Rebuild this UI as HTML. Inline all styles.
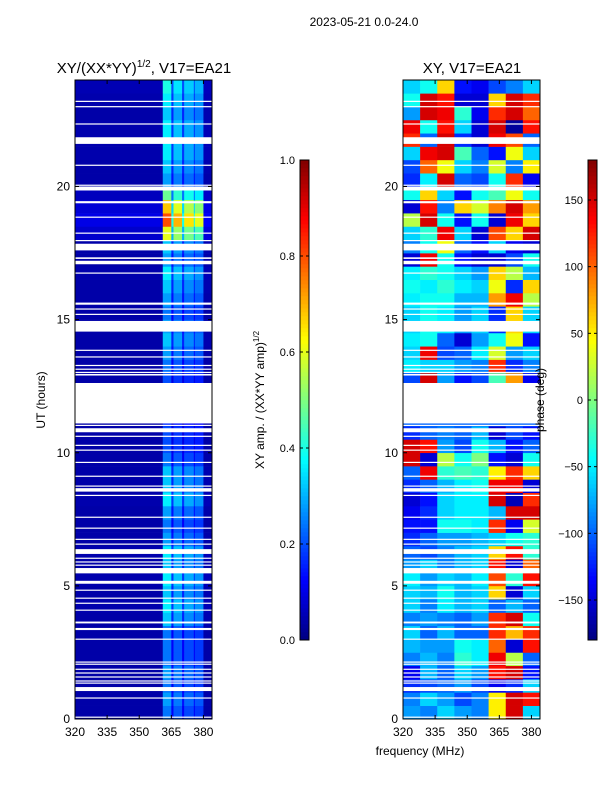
<!DOCTYPE html>
<html><head><meta charset="utf-8">
<style>
html,body{margin:0;padding:0;background:#fff;}
svg{display:block;font-family:"Liberation Sans","DejaVu Sans",sans-serif;}
</style></head>
<body>
<svg id="fig" width="600" height="800" viewBox="0 0 600 800" xmlns="http://www.w3.org/2000/svg">
<text x="364" y="26" font-size="12" text-anchor="middle">2023-05-21 0.0-24.0</text>
<text x="144" y="73" font-size="15" text-anchor="middle">XY/(XX*YY)<tspan font-size="10" dy="-6">1/2</tspan><tspan dy="6">, V17=EA21</tspan></text>
<text x="472" y="73" font-size="15" text-anchor="middle">XY, V17=EA21</text>
<g id="left"></g>
<g id="right"></g>
<g id="cb1"></g>
<g id="cb2"></g>
<g id="axes"></g>
<text transform="translate(45,400) rotate(-90)" font-size="12" text-anchor="middle">UT (hours)</text>
<text x="420" y="755" font-size="12" text-anchor="middle">frequency (MHz)</text>
<text transform="translate(264,400) rotate(-90)" font-size="12" text-anchor="middle">XY amp. / (XX*YY amp)<tspan font-size="8" dy="-5">1/2</tspan></text>
<text transform="translate(544,400) rotate(-90)" font-size="12" text-anchor="middle">phase (deg)</text>
</svg>
<script>
// ---- data ----
const ampBandEdges = [320, 361, 365, 366, 370, 371, 375.5, 376, 380, 384];
const ampBandWeight = [0.1, 0.8, 0.4, 0.7, 0.4, 0.65, 0.4, 0.6, 0.12];
const rowStartHours = [0,0.5,1,1.5,2,2.5,3,3.5,4,4.5,5,5.5,6,6.5,7,7.5,8,8.5,9,9.5,10,10.5,11,11.5,12,12.5,13,13.5,14,14.5,15,15.5,16,16.5,17,17.5,18,18.5,19,19.5,20,20.5,21,21.5,22,22.5,23,23.5];
const ampRowPeak = [0.3,0.35,0.3,0.35,0.3,0.3,0.3,0.4,0.45,0.4,0.45,0.4,0.45,0.35,0.3,0.35,0.45,0.4,0.4,0.3,0.25,0.25,0.2,0.2,0.2,0.25,0.3,0.35,0.4,0.35,0.3,0.35,0.4,0.45,0.35,0.4,0.75,1.0,0.85,0.6,0.35,0.4,0.45,0.45,0.45,0.4,0.45,0.5];
const phaseBandEdges = [320,328,336,344,352,360,368,376,384];
const phaseRows = [
[-80,-90,-60,-80,-90,50,150,-60],
[-90,-60,-80,-110,-90,50,150,130],
[-120,-110,-100,-80,-110,-140,-120,-60],
[-140,-70,-100,-60,-80,130,150,-130],
[-90,-70,-90,-30,-50,140,20,-100],
[-70,-80,-80,-40,-50,100,-150,130],
[-60,-100,-70,-100,-100,120,70,120],
[-90,-80,-90,-100,-80,120,150,-40],
[-60,-90,-50,-70,-60,-100,-70,-100],
[-60,-70,-40,-70,-60,60,-150,-60],
[-50,-80,-60,-70,-50,110,-30,130],
[-80,-60,-90,-70,-60,130,-150,100],
[-100,-110,-90,-70,-60,60,130,-30],
[-120,-100,-80,-80,-70,-60,-40,-30],
[-130,-130,-40,-40,-50,120,-140,30],
[-140,-120,-60,-50,-50,-70,150,150],
[-150,-130,-60,-50,-50,150,-160,120],
[-120,-100,-70,-50,-40,140,140,-150],
[-100,140,-30,-20,-30,50,120,60],
[150,-150,20,-40,0,-130,-150,-40],
[150,130,-80,-110,-40,-70,-130,-100],
[-120,-100,-90,-100,-70,-150,-110,-130],
[-100,-100,-100,-100,-100,-100,-100,-100],
[-100,-100,-100,-100,-100,-100,-100,-100],
[-100,-100,-100,-100,-100,-100,-100,-100],
[-110,150,-80,-130,-110,-20,80,-140],
[-50,-60,-60,-80,-90,120,-120,-90],
[-60,140,-110,-100,-50,30,-80,-60],
[-50,-40,-100,-150,-80,-40,40,-130],
[-60,-40,-50,-80,-60,-120,60,-60],
[-60,-40,-50,-80,-60,-120,60,-60],
[-50,-40,-40,-70,-70,80,140,20],
[-40,-50,-30,-50,-60,40,-120,60],
[-50,-30,-40,-60,-80,60,20,-70],
[-150,140,-40,-130,-150,-150,-110,-40],
[-90,-40,40,-100,-130,-60,-140,-150],
[-60,-30,140,-60,-150,110,60,150],
[20,150,-40,-130,-40,-150,140,60],
[-150,130,-90,60,30,90,150,80],
[-40,60,-60,-130,-40,-20,40,-40],
[-120,-50,150,-100,-110,-40,120,-140],
[-110,100,40,-60,-90,30,-90,50],
[-60,140,150,-20,-100,-130,40,-60],
[120,-100,150,-120,-150,140,110,-100],
[140,-40,130,-60,-150,150,-170,130],
[-80,150,140,-30,-140,120,150,100],
[-40,150,130,-150,-150,60,150,120],
[-60,-40,60,-130,-140,-110,-90,-60]
];
const flagGaps = [[0.05,0.09],[0.77,0.81],[1.05,1.2],[1.33,1.37],[1.41,1.45],[1.56,1.6],[1.71,1.75],[1.85,1.89],[2.04,2.08],[2.12,2.16],[2.98,3.02],[3.34,3.42],[3.59,3.66],[4.07,4.11],[4.33,4.37],[4.52,4.56],[4.82,4.86],[5.08,5.19],[5.47,5.67],[5.76,5.8],[5.88,5.92],[6.02,6.06],[6.2,6.38],[6.55,6.59],[6.73,6.77],[7.15,7.19],[7.56,7.6],[8.38,8.42],[8.54,8.67],[8.73,8.77],[9.1,9.14],[9.62,9.66],[10.08,10.12],[10.26,10.3],[10.6,10.64],[10.77,10.92],[11.01,11.05],[11.1,12.62],[12.9,12.96],[13.0,13.04],[13.12,13.16],[13.26,13.3],[13.58,13.62],[13.83,13.87],[14.55,14.95],[15.18,15.22],[15.38,15.42],[15.56,15.64],[16.73,16.77],[17.08,17.21],[17.28,17.34],[17.6,17.85],[17.95,17.99],[18.23,18.27],[18.83,18.87],[19.37,19.45],[19.85,20.0],[20.03,20.07],[20.78,20.82],[21.6,21.85],[22.33,22.37],[22.98,23.02],[23.18,23.22]];
const xTicks = [320,335,350,365,380];
const yTicks = [0,5,10,15,20];
const ampTicks = [0.0,0.2,0.4,0.6,0.8,1.0];
const phaseTicks = [-150,-100,-50,0,50,100,150];

// ---- scales ----
const NS="http://www.w3.org/2000/svg";
const P={x0:75,x1:212,y0:80,y1:719};
const RX=403-75;
function xs(f){return P.x0+(f-320)*(P.x1-P.x0)/64;}
function ys(h){return P.y1-h*(P.y1-P.y0)/24;}
function cbAmp(v){return 640-v*480;}
function cbPh(v){return 640-(v+180)*480/360;}
function jet(t){t=Math.max(0,Math.min(1,t));
 const r=Math.max(0,Math.min(1,1.5-Math.abs(4*t-3))),g=Math.max(0,Math.min(1,1.5-Math.abs(4*t-2))),b=Math.max(0,Math.min(1,1.5-Math.abs(4*t-1)));
 return `rgb(${Math.round(r*255)},${Math.round(g*255)},${Math.round(b*255)})`;}
function mk(tag,attrs,parent){const e=document.createElementNS(NS,tag);for(const k in attrs)e.setAttribute(k,attrs[k]);parent.appendChild(e);return e;}

const left=document.getElementById('left'), right=document.getElementById('right');
rowStartHours.forEach((h,i)=>{
 for(let j=0;j<ampBandWeight.length;j++){
  const v=Math.max(0.04,ampBandWeight[j]*ampRowPeak[i]);
  const x=xs(ampBandEdges[j]), w=xs(ampBandEdges[j+1])-x;
  const y=ys(h+0.5), hh=ys(h)-y;
  const r=mk('rect',{x:x,y:y,width:w+0.3,height:hh+0.3,fill:jet(v)},left);
  
  
 }
 for(let j=0;j<phaseRows[i].length;j++){
  const v=phaseRows[i][j];
  const x=xs(phaseBandEdges[j])+RX, w=xs(phaseBandEdges[j+1])-xs(phaseBandEdges[j]);
  const y=ys(h+0.5), hh=ys(h)-y;
  const r=mk('rect',{x:x,y:y,width:w+0.3,height:hh+0.3,fill:jet((v+180)/360)},right);
  
  
 }
});
flagGaps.forEach(g=>{
 [0,RX].forEach(off=>{
  const y=ys(g[1]), hh=Math.max(1.2,ys(g[0])-y);
  const r=mk('rect',{x:P.x0+off,y:y,width:P.x1-P.x0,height:hh,fill:'#fff'},off?right:left);
  
  
 });
});
const axes=document.getElementById('axes');
[0,RX].forEach((off,k)=>{
 const fr=mk('rect',{x:P.x0+off,y:P.y0,width:P.x1-P.x0,height:P.y1-P.y0,fill:'none',stroke:'#000','stroke-width':1},axes);
 
 
 xTicks.forEach(t=>{
  const x=xs(t)+off;
  mk('line',{x1:x,x2:x,y1:P.y1,y2:P.y1-4,stroke:'#000'},axes);
  mk('line',{x1:x,x2:x,y1:P.y0,y2:P.y0+4,stroke:'#000'},axes);
  const tx=mk('text',{x:x,y:P.y1+17,'font-size':12,'text-anchor':'middle'},axes);
  tx.textContent=t;
  
  
 });
 yTicks.forEach(t=>{
  const y=ys(t);
  mk('line',{x1:P.x0+off,x2:P.x0+off+4,y1:y,y2:y,stroke:'#000'},axes);
  mk('line',{x1:P.x1+off,x2:P.x1+off-4,y1:y,y2:y,stroke:'#000'},axes);
  const tx=mk('text',{x:P.x0+off-5,y:y+4,'font-size':12,'text-anchor':'end'},axes);
  tx.textContent=t;
  
  
 });
});
function colorbar(gid,x0,ticks,scale,fmt){
 const g=document.getElementById(gid);
 for(let i=0;i<120;i++){
  mk('rect',{x:x0,y:640-(i+1)*4,width:9,height:4.3,fill:jet((i+0.5)/120)},g);
 }
 mk('rect',{x:x0,y:160,width:9,height:480,fill:'none',stroke:'#000'},g);
 ticks.forEach(t=>{
  const y=scale(t);
  mk('line',{x1:x0,x2:x0+3,y1:y,y2:y,stroke:'#000'},g);
  mk('line',{x1:x0+9,x2:x0+6,y1:y,y2:y,stroke:'#000'},g);
  const tx=mk('text',{x:x0-5,y:y+4,'font-size':11,'text-anchor':'end'},g);
  tx.textContent=fmt(t);
  
  
 });
}
colorbar('cb1',300,ampTicks,cbAmp,t=>t.toFixed(1));
colorbar('cb2',588,phaseTicks,cbPh,t=>t<0?'\u2212'+(-t):String(t));
</script>
</body></html>
